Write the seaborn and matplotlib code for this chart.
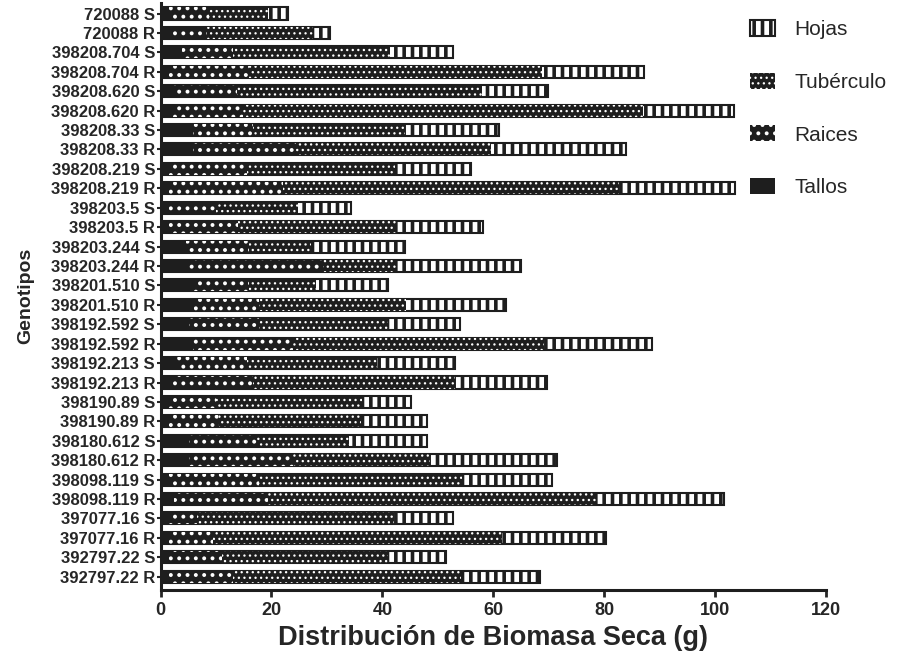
import matplotlib
matplotlib.use("Agg")
import matplotlib.pyplot as plt
from matplotlib.patches import Patch
import numpy as np
import pandas as pd
import seaborn as sns

# genotipos, de arriba hacia abajo
genotipos = ["720088 S", "720088 R", "398208.704 S", "398208.704 R",
             "398208.620 S", "398208.620 R", "398208.33 S", "398208.33 R",
             "398208.219 S", "398208.219 R", "398203.5 S", "398203.5 R",
             "398203.244 S", "398203.244 R", "398201.510 S", "398201.510 R",
             "398192.592 S", "398192.592 R", "398192.213 S", "398192.213 R",
             "398190.89 S", "398190.89 R", "398180.612 S", "398180.612 R",
             "398098.119 S", "398098.119 R", "397077.16 S", "397077.16 R",
             "392797.22 S", "392797.22 R"]

# biomasa seca (g) por organo
tallos = [1.5, 1.5, 3.8, 1.6, 2.2, 2.2, 5.8, 5.8, 1.6, 1.6,
          1.6, 1.6, 4.6, 5.2, 6.1, 6.1, 5.2, 5.8, 2.9, 2.2,
          1.6, 1.5, 5.2, 5.2, 1.6, 2.5, 1.5, 1.5, 1.5, 1.5]
raices = [7.3, 6.8, 9.2, 14.4, 11.5, 12.6, 10.8, 18.7, 13.9, 20.4,
          8.4, 12.3, 11.4, 24.0, 9.9, 11.7, 12.6, 18.0, 12.6, 14.4,
          8.4, 9.1, 12.1, 18.6, 16.2, 16.8, 5.0, 7.9, 9.5, 11.5]
tuberculo = [10.5, 19.1, 28.3, 52.8, 44.3, 72.2, 27.4, 35.1, 26.7, 60.7,
             14.7, 28.6, 11.2, 13.3, 12.1, 26.5, 23.2, 45.4, 23.5, 36.4,
             26.4, 25.6, 16.7, 24.7, 36.6, 59.2, 35.5, 52.2, 30.0, 41.2]
hojas = [3.7, 3.1, 11.5, 18.4, 11.9, 16.4, 17.0, 24.4, 13.7, 20.9,
         9.7, 15.7, 16.8, 22.5, 12.9, 17.9, 12.9, 19.4, 14.0, 16.7,
         8.8, 11.9, 14.0, 23.0, 16.2, 23.1, 10.8, 18.8, 10.4, 14.3]

df = pd.DataFrame({"Genotipo": genotipos})
df["Tallos"] = np.array(tallos)
df["Raices"] = df["Tallos"] + np.array(raices)
df["Tuberculo"] = df["Raices"] + np.array(tuberculo)
df["Hojas"] = df["Tuberculo"] + np.array(hojas)

sns.set_style("ticks")
plt.rcParams["font.family"] = ["Liberation Sans", "DejaVu Sans"]

dark = "#1e1e1e"
fig = plt.figure(figsize=(8.97, 6.56), dpi=100)
ax = fig.add_axes([0.179, 0.101, 0.742, 0.895])

# barras apiladas: se dibujan los acumulados, del mayor al menor
# (columna, relleno, color trama, trama, borde, grosor trama)
estilos = [
    ("Hojas", "white", dark, "||", 1.5, 2.6),
    ("Tuberculo", dark, "white", "...", 0, 0.9),
    ("Raices", dark, "white", "..", 0, 1.6),
    ("Tallos", dark, dark, None, 0, 1.0),
]
etiquetas = {"Hojas": "Hojas", "Tuberculo": "Tubérculo",
             "Raices": "Raices", "Tallos": "Tallos"}
handles = []
for col, fc, ec, hatch, lw, hlw in estilos:
    plt.rcParams["hatch.linewidth"] = hlw
    sns.barplot(data=df, x=col, y="Genotipo", orient="h", color=fc,
                saturation=1, edgecolor=ec, hatch=hatch, linewidth=lw,
                width=0.62, errorbar=None, ax=ax)
    handles.append(Patch(facecolor=fc, edgecolor=ec, hatch=hatch,
                         linewidth=lw, label=etiquetas[col]))

ax.set_xlim(0, 120)
ax.set_ylim(len(genotipos) - 0.33, -0.56)
ax.set_xticks(range(0, 121, 20))
ax.set_xlabel("Distribución de Biomasa Seca (g)", fontsize=19.5,
              fontweight="bold", labelpad=5)
ax.set_ylabel("Genotipos", fontsize=14, fontweight="bold", labelpad=12)
ax.tick_params(axis="x", labelsize=13, width=2, length=5, direction="out")
ax.tick_params(axis="y", labelsize=12, width=1.5, length=3, pad=1)
for lab in ax.get_xticklabels() + ax.get_yticklabels():
    lab.set_fontweight("bold")
for s in ["top", "right"]:
    ax.spines[s].set_visible(False)
for s in ["left", "bottom"]:
    ax.spines[s].set_linewidth(2.2)
    ax.spines[s].set_color(dark)

leg = fig.legend(handles=handles, loc="upper left", bbox_to_anchor=(0.825, 0.985),
                 frameon=False, fontsize=15, labelspacing=1.6, handlelength=1.2,
                 handleheight=0.8, handletextpad=0.9, borderpad=0)
for p, est in zip(leg.get_patches(), estilos):
    if hasattr(p, "set_hatch_linewidth"):
        p.set_hatch_linewidth(est[5])

fig.savefig("out.png", dpi=100)
